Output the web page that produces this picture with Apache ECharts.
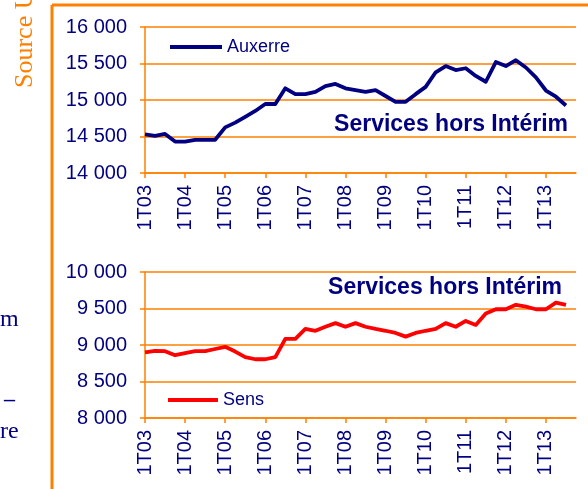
<!DOCTYPE html>
<html>
<head>
<meta charset="utf-8">
<script src="https://cdn.jsdelivr.net/npm/echarts@6/dist/echarts.min.js"></script>
<style>
  html, body { margin: 0; padding: 0; background: #fff; }
  #chart { width: 588px; height: 489px; }
</style>
</head>
<body>
<div id="chart"></div>
<script>
// trimestres 1T03 .. 4T13
const years = ['03', '04', '05', '06', '07', '08', '09', '10', '11', '12', '13'];
const quarters = ['1T', '2T', '3T', '4T'];
const categories = [];
years.forEach(y => quarters.forEach(q => categories.push(q + y)));

// emploi salarié services hors intérim
const auxerre = [
  14530, 14510, 14535, 14430, 14430, 14455, 14455, 14455,
  14625, 14690, 14770, 14850, 14945, 14945, 15160, 15080,
  15080, 15110, 15190, 15220, 15160, 15135, 15110, 15135,
  15055, 14975, 14975, 15080, 15180, 15380, 15465, 15410,
  15435, 15330, 15250, 15520, 15465, 15545, 15445, 15310,
  15130, 15045, 14925
];
const sens = [
  8900, 8920, 8915, 8860, 8890, 8915, 8915, 8945,
  8975, 8910, 8835, 8805, 8805, 8835, 9085, 9085,
  9220, 9195, 9250, 9300, 9250, 9300, 9250, 9220,
  9195, 9165, 9115, 9165, 9195, 9220, 9300, 9250,
  9330, 9275, 9430, 9490, 9490, 9550, 9525, 9490,
  9490, 9580, 9550
];
const subtitle = 'Services hors Intérim';

const NAVY = '#000080';
const ORANGE = '#ff8000';
const FONT = '"Liberation Sans", Arial, sans-serif';

function fmt(v) {
  return String(v).replace(/\B(?=(\d{3})+(?!\d))/g, ' ');
}

function xAxisOf(gridIndex) {
  return {
    type: 'category',
    gridIndex: gridIndex,
    data: categories,
    boundaryGap: false,
    axisLine: { lineStyle: { color: ORANGE, width: 1.5 } },
    axisTick: { show: true, interval: 3, length: 5, lineStyle: { color: ORANGE, width: 1.5 } },
    axisLabel: {
      interval: 3, rotate: 90, margin: 12,
      color: NAVY, fontSize: 20, fontFamily: FONT
    },
    splitLine: { show: false }
  };
}

function yAxisOf(gridIndex, min, max) {
  return {
    type: 'value',
    gridIndex: gridIndex,
    min: min, max: max, interval: 500,
    axisLine: { show: true, lineStyle: { color: ORANGE, width: 1.5 } },
    axisTick: { show: true, length: 5, lineStyle: { color: ORANGE, width: 1.5 } },
    axisLabel: {
      margin: 18, color: NAVY, fontSize: 20, fontFamily: FONT,
      formatter: fmt
    },
    splitLine: { lineStyle: { color: ORANGE, width: 1.5 } }
  };
}

const myChart = echarts.init(document.getElementById('chart'));
myChart.setOption({
  animation: false,
  grid: [
    { left: 145, right: 12, top: 27, height: 146 },
    { left: 145, right: 12, top: 272, height: 146 }
  ],
  xAxis: [xAxisOf(0), xAxisOf(1)],
  yAxis: [yAxisOf(0, 14000, 16000), yAxisOf(1, 8000, 10000)],
  legend: [
    {
      data: ['Auxerre'], left: 170, top: 38, padding: 0,
      icon: 'rect', itemWidth: 52, itemHeight: 4, itemGap: 5,
      textStyle: { color: NAVY, fontSize: 18, fontFamily: FONT }
    },
    {
      data: ['Sens'], left: 168, top: 391, padding: 0,
      icon: 'rect', itemWidth: 50, itemHeight: 4, itemGap: 5,
      textStyle: { color: NAVY, fontSize: 18, fontFamily: FONT }
    }
  ],
  series: [
    {
      name: 'Auxerre', type: 'line', xAxisIndex: 0, yAxisIndex: 0,
      data: auxerre, symbol: 'none', color: NAVY,
      lineStyle: { width: 3.8, join: 'round' }
    },
    {
      name: 'Sens', type: 'line', xAxisIndex: 1, yAxisIndex: 1,
      data: sens, symbol: 'none', color: '#ff0000',
      lineStyle: { width: 3.8, join: 'round' }
    }
  ],
  graphic: [
    // cadre de la page
    { type: 'line', shape: { x1: 52, y1: 5, x2: 52, y2: 489 }, style: { stroke: ORANGE, lineWidth: 3 } },
    { type: 'line', shape: { x1: 52, y1: 5, x2: 588, y2: 5 }, style: { stroke: ORANGE, lineWidth: 3 } },
    {
      type: 'text', x: 38, y: 88, rotation: Math.PI / 2,
      style: { text: 'Source U', fill: ORANGE, font: '26px "Liberation Serif", serif', textAlign: 'left', textVerticalAlign: 'bottom' }
    },
    { type: 'text', x: 0, y: 320, style: { text: 'm', fill: NAVY, font: '24px "Liberation Serif", serif', textAlign: 'left', textVerticalAlign: 'middle' } },
    { type: 'text', x: 4, y: 400, style: { text: '–', fill: NAVY, font: 'bold 22px "Liberation Serif", serif', textAlign: 'left', textVerticalAlign: 'middle' } },
    { type: 'text', x: 0, y: 432, style: { text: 're', fill: NAVY, font: '24px "Liberation Serif", serif', textAlign: 'left', textVerticalAlign: 'middle' } },
    {
      type: 'text', x: 568, y: 125,
      style: { text: subtitle, fill: NAVY, font: 'bold 23px ' + FONT, textAlign: 'right', textVerticalAlign: 'middle' }
    },
    {
      type: 'text', x: 562, y: 288,
      style: { text: subtitle, fill: NAVY, font: 'bold 23px ' + FONT, textAlign: 'right', textVerticalAlign: 'middle' }
    }
  ]
});
</script>
</body>
</html>
